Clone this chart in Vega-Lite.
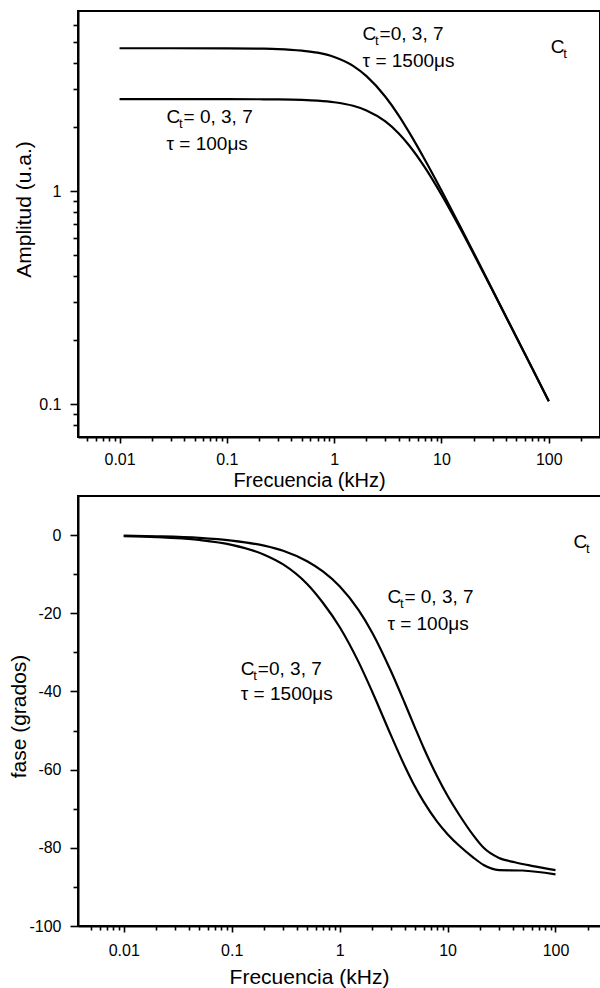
{
  "$schema": "https://vega.github.io/schema/vega-lite/v6.json",
  "background": "white",
  "padding": {"left": 7, "top": 10, "right": 0, "bottom": 0},
  "spacing": 4,
  "config": {
    "view": {"stroke": "black", "strokeWidth": 2},
    "axis": {
      "grid": false,
      "labelFont": "Liberation Sans", "labelFontSize": 16, "labelColor": "black",
      "titleFont": "Liberation Sans", "titleFontSize": 21, "titleFontWeight": "normal", "titleColor": "black",
      "domainColor": "black", "domainWidth": 2, "tickColor": "black", "tickWidth": 1.6
    },
    "text": {"font": "Liberation Sans", "color": "black"}
  },
  "datasets": {
    "amp": [
      {"f": 0.01, "A": 4.68, "s": "1500"}, {"f": 0.03, "A": 4.68, "s": "1500"}, {"f": 0.1, "A": 4.675, "s": "1500"},
      {"f": 0.2, "A": 4.66, "s": "1500"}, {"f": 0.3, "A": 4.64, "s": "1500"}, {"f": 0.5, "A": 4.56, "s": "1500"},
      {"f": 0.7, "A": 4.46, "s": "1500"}, {"f": 1, "A": 4.26, "s": "1500"}, {"f": 1.5, "A": 3.87, "s": "1500"},
      {"f": 2, "A": 3.46, "s": "1500"}, {"f": 3, "A": 2.77, "s": "1500"}, {"f": 4, "A": 2.26, "s": "1500"},
      {"f": 5, "A": 1.885, "s": "1500"}, {"f": 7, "A": 1.403, "s": "1500"}, {"f": 10, "A": 1.006, "s": "1500"},
      {"f": 15, "A": 0.679, "s": "1500"}, {"f": 20, "A": 0.512, "s": "1500"}, {"f": 30, "A": 0.342, "s": "1500"},
      {"f": 50, "A": 0.206, "s": "1500"}, {"f": 70, "A": 0.147, "s": "1500"}, {"f": 100, "A": 0.103, "s": "1500"},
      {"f": 0.01, "A": 2.70, "s": "100"}, {"f": 0.1, "A": 2.70, "s": "100"}, {"f": 0.2, "A": 2.696, "s": "100"},
      {"f": 0.3, "A": 2.692, "s": "100"}, {"f": 0.5, "A": 2.677, "s": "100"}, {"f": 0.7, "A": 2.655, "s": "100"},
      {"f": 1, "A": 2.611, "s": "100"}, {"f": 1.5, "A": 2.512, "s": "100"}, {"f": 2, "A": 2.39, "s": "100"},
      {"f": 3, "A": 2.121, "s": "100"}, {"f": 4, "A": 1.862, "s": "100"}, {"f": 5, "A": 1.636, "s": "100"},
      {"f": 7, "A": 1.291, "s": "100"}, {"f": 10, "A": 0.961, "s": "100"}, {"f": 15, "A": 0.665, "s": "100"},
      {"f": 20, "A": 0.505, "s": "100"}, {"f": 30, "A": 0.34, "s": "100"}, {"f": 50, "A": 0.205, "s": "100"},
      {"f": 70, "A": 0.147, "s": "100"}, {"f": 100, "A": 0.103, "s": "100"}
    ],
    "phase": [
      {"f": 0.01, "P": -0.15, "s": "100"}, {"f": 0.02, "P": -0.3, "s": "100"}, {"f": 0.05, "P": -0.7, "s": "100"},
      {"f": 0.1, "P": -1.4, "s": "100"}, {"f": 0.2, "P": -2.7, "s": "100"}, {"f": 0.3, "P": -4.0, "s": "100"},
      {"f": 0.5, "P": -6.7, "s": "100"}, {"f": 0.7, "P": -9.3, "s": "100"}, {"f": 1, "P": -13.1, "s": "100"},
      {"f": 1.5, "P": -19.2, "s": "100"}, {"f": 2, "P": -24.9, "s": "100"}, {"f": 3, "P": -34.9, "s": "100"},
      {"f": 4, "P": -42.9, "s": "100"}, {"f": 5, "P": -49.3, "s": "100"}, {"f": 6, "P": -54.4, "s": "100"},
      {"f": 8, "P": -61.7, "s": "100"}, {"f": 10, "P": -66.7, "s": "100"}, {"f": 13, "P": -71.8, "s": "100"},
      {"f": 17, "P": -76.5, "s": "100"}, {"f": 21.6, "P": -80.0, "s": "100"}, {"f": 30, "P": -82.6, "s": "100"},
      {"f": 42, "P": -83.7, "s": "100"}, {"f": 60, "P": -84.6, "s": "100"}, {"f": 100, "P": -85.7, "s": "100"},
      {"f": 0.01, "P": -0.25, "s": "1500"}, {"f": 0.02, "P": -0.5, "s": "1500"}, {"f": 0.05, "P": -1.25, "s": "1500"},
      {"f": 0.1, "P": -2.5, "s": "1500"}, {"f": 0.2, "P": -5.0, "s": "1500"}, {"f": 0.3, "P": -7.5, "s": "1500"},
      {"f": 0.5, "P": -12.5, "s": "1500"}, {"f": 0.7, "P": -17.3, "s": "1500"}, {"f": 1, "P": -23.5, "s": "1500"},
      {"f": 1.5, "P": -32.5, "s": "1500"}, {"f": 2, "P": -40.0, "s": "1500"}, {"f": 3, "P": -51.3, "s": "1500"},
      {"f": 4, "P": -59.0, "s": "1500"}, {"f": 5, "P": -64.4, "s": "1500"}, {"f": 6, "P": -68.2, "s": "1500"},
      {"f": 8, "P": -73.3, "s": "1500"}, {"f": 10, "P": -76.5, "s": "1500"}, {"f": 13, "P": -79.6, "s": "1500"},
      {"f": 17, "P": -82.3, "s": "1500"}, {"f": 21.6, "P": -84.4, "s": "1500"}, {"f": 30, "P": -85.7, "s": "1500"},
      {"f": 49, "P": -85.8, "s": "1500"}, {"f": 100, "P": -86.8, "s": "1500"}
    ],
    "annTop": [
      {"f": 1.84, "A": 5.11, "part": "C", "text": "C"},
      {"f": 1.84, "A": 5.11, "part": "t", "text": "t"},
      {"f": 1.84, "A": 5.11, "part": "rest", "text": "=0, 3, 7"},
      {"f": 1.84, "A": 3.83, "part": "line", "text": "τ = 1500μs"},
      {"f": 0.0274, "A": 2.09, "part": "C", "text": "C"},
      {"f": 0.0274, "A": 2.09, "part": "t", "text": "t"},
      {"f": 0.0274, "A": 2.09, "part": "rest", "text": " = 0, 3, 7"},
      {"f": 0.0274, "A": 1.557, "part": "line", "text": "τ = 100μs"},
      {"f": 104, "A": 4.45, "part": "C", "text": "C"},
      {"f": 104, "A": 4.45, "part": "t", "text": "t"}
    ],
    "annBot": [
      {"f": 2.77, "P": -17.4, "part": "C", "text": "C"},
      {"f": 2.77, "P": -17.4, "part": "t", "text": "t"},
      {"f": 2.77, "P": -17.4, "part": "rest", "text": " = 0, 3, 7"},
      {"f": 2.77, "P": -24.3, "part": "line", "text": "τ = 100μs"},
      {"f": 0.1216, "P": -35.8, "part": "C", "text": "C"},
      {"f": 0.1216, "P": -35.8, "part": "t", "text": "t"},
      {"f": 0.1216, "P": -35.8, "part": "rest", "text": "=0, 3, 7"},
      {"f": 0.1216, "P": -42.1, "part": "line", "text": "τ = 1500μs"},
      {"f": 146.8, "P": -3.4, "part": "C", "text": "C"},
      {"f": 146.8, "P": -3.4, "part": "t", "text": "t"}
    ]
  },
  "vconcat": [
    {
      "width": 522,
      "height": 426,
      "resolve": {"axis": {"x": "independent", "y": "independent"}},
      "layer": [
        {
          "data": {"name": "amp"},
          "mark": {"type": "line", "color": "black", "strokeWidth": 2.2, "interpolate": "monotone"},
          "encoding": {
            "x": {"field": "f", "type": "quantitative",
              "scale": {"type": "log", "domain": [0.0041, 300], "nice": false},
              "axis": {"orient": "bottom", "values": [0.01, 0.1, 1, 10, 100], "format": "~g", "tickSize": 6, "labelPadding": 8,
                "title": "Frecuencia (kHz)", "titleFontSize": 20, "titleX": 231, "titleY": 49, "titleBaseline": "alphabetic", "titleAlign": "center"}},
            "y": {"field": "A", "type": "quantitative",
              "scale": {"type": "log", "domain": [0.07, 7], "nice": false},
              "axis": {"orient": "left", "values": [0.1, 1], "format": "~g", "tickSize": 8, "labelPadding": 9,
                "title": "Amplitud (u.a.)", "titleX": -48, "titleY": 198, "titleBaseline": "alphabetic", "titleAlign": "center"}},
            "detail": {"field": "s"}
          }
        },
        {
          "data": {"name": "annTop"},
          "transform": [{"filter": "datum.part == 'C' || datum.part == 'line'"}],
          "mark": {"type": "text", "align": "left", "baseline": "alphabetic", "fontSize": 19},
          "encoding": {
            "x": {"field": "f", "type": "quantitative",
              "axis": {"orient": "bottom", "values": [0.005, 0.006, 0.007, 0.008, 0.009, 0.02, 0.03, 0.04, 0.05, 0.06, 0.07, 0.08, 0.09, 0.2, 0.3, 0.4, 0.5, 0.6, 0.7, 0.8, 0.9, 2, 3, 4, 5, 6, 7, 8, 9, 20, 30, 40, 50, 60, 70, 80, 90, 200],
                "labels": false, "title": null, "tickSize": 4, "domain": false}},
            "y": {"field": "A", "type": "quantitative",
              "axis": {"orient": "left", "values": [0.08, 0.09, 0.2, 0.3, 0.4, 0.5, 0.6, 0.7, 0.8, 0.9, 2, 3, 4, 5, 6],
                "labels": false, "title": null, "tickSize": 5, "domain": false}},
            "text": {"field": "text"}
          }
        },
        {
          "data": {"name": "annTop"},
          "transform": [{"filter": "datum.part == 't'"}],
          "mark": {"type": "text", "align": "left", "baseline": "alphabetic", "fontSize": 13, "dx": 12.5, "dy": 5},
          "encoding": {
            "x": {"field": "f", "type": "quantitative", "axis": null},
            "y": {"field": "A", "type": "quantitative", "axis": null},
            "text": {"field": "text"}
          }
        },
        {
          "data": {"name": "annTop"},
          "transform": [{"filter": "datum.part == 'rest'"}],
          "mark": {"type": "text", "align": "left", "baseline": "alphabetic", "fontSize": 19, "dx": 17},
          "encoding": {
            "x": {"field": "f", "type": "quantitative", "axis": null},
            "y": {"field": "A", "type": "quantitative", "axis": null},
            "text": {"field": "text"}
          }
        }
      ]
    },
    {
      "width": 529,
      "height": 430,
      "resolve": {"axis": {"x": "independent", "y": "independent"}},
      "layer": [
        {
          "data": {"name": "phase"},
          "mark": {"type": "line", "color": "black", "strokeWidth": 2.2, "interpolate": "monotone"},
          "encoding": {
            "x": {"field": "f", "type": "quantitative",
              "scale": {"type": "log", "domain": [0.00377, 300], "nice": false},
              "axis": {"orient": "bottom", "values": [0.01, 0.1, 1, 10, 100], "format": "~g", "tickSize": 6, "labelPadding": 10,
                "title": "Frecuencia (kHz)", "titleX": 231, "titleY": 57, "titleBaseline": "alphabetic", "titleAlign": "center"}},
            "y": {"field": "P", "type": "quantitative",
              "scale": {"domain": [-100, 10], "nice": false, "zero": false},
              "axis": {"orient": "left", "values": [0, -20, -40, -60, -80, -100], "labelExpr": "datum.value + ''", "tickSize": 8, "labelPadding": 9,
                "title": "fase (grados)", "titleX": -53, "titleY": 220, "titleBaseline": "alphabetic", "titleAlign": "center"}},
            "detail": {"field": "s"}
          }
        },
        {
          "data": {"name": "annBot"},
          "transform": [{"filter": "datum.part == 'C' || datum.part == 'line'"}],
          "mark": {"type": "text", "align": "left", "baseline": "alphabetic", "fontSize": 19},
          "encoding": {
            "x": {"field": "f", "type": "quantitative",
              "axis": {"orient": "bottom", "values": [0.005, 0.006, 0.007, 0.008, 0.009, 0.02, 0.03, 0.04, 0.05, 0.06, 0.07, 0.08, 0.09, 0.2, 0.3, 0.4, 0.5, 0.6, 0.7, 0.8, 0.9, 2, 3, 4, 5, 6, 7, 8, 9, 20, 30, 40, 50, 60, 70, 80, 90, 200],
                "labels": false, "title": null, "tickSize": 4, "domain": false}},
            "y": {"field": "P", "type": "quantitative",
              "axis": {"orient": "left", "values": [-10, -30, -50, -70, -90],
                "labels": false, "title": null, "tickSize": 5, "domain": false}},
            "text": {"field": "text"}
          }
        },
        {
          "data": {"name": "annBot"},
          "transform": [{"filter": "datum.part == 't'"}],
          "mark": {"type": "text", "align": "left", "baseline": "alphabetic", "fontSize": 13, "dx": 12.5, "dy": 5},
          "encoding": {
            "x": {"field": "f", "type": "quantitative", "axis": null},
            "y": {"field": "P", "type": "quantitative", "axis": null},
            "text": {"field": "text"}
          }
        },
        {
          "data": {"name": "annBot"},
          "transform": [{"filter": "datum.part == 'rest'"}],
          "mark": {"type": "text", "align": "left", "baseline": "alphabetic", "fontSize": 19, "dx": 17},
          "encoding": {
            "x": {"field": "f", "type": "quantitative", "axis": null},
            "y": {"field": "P", "type": "quantitative", "axis": null},
            "text": {"field": "text"}
          }
        }
      ]
    }
  ]
}
